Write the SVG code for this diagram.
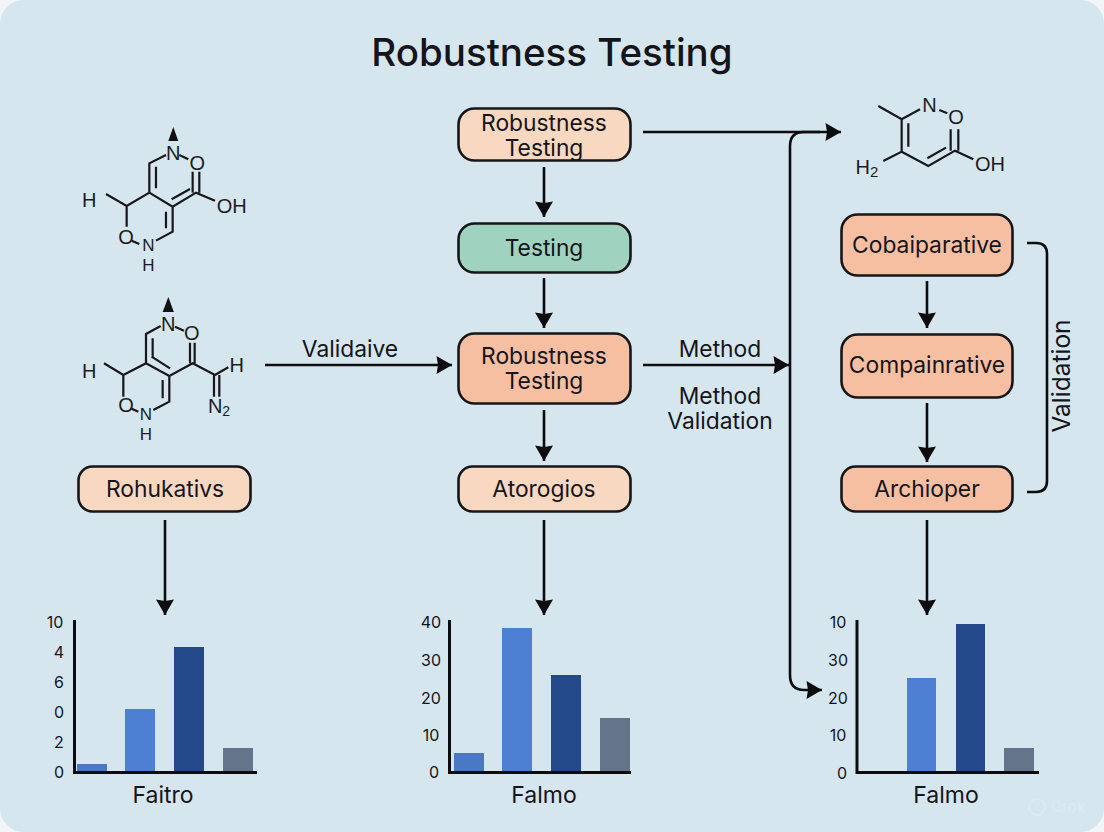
<svg xmlns="http://www.w3.org/2000/svg" width="1104" height="832" viewBox="0 0 1104 832">
<style>
text{font-family:Inter,"Liberation Sans",sans-serif;fill:#14141a;text-anchor:middle}
.n{stroke:#16161a;stroke-width:2.6}
.l{font-size:22.8px}
.e{font-size:22.8px}
.a{font-size:16px}
.x{font-size:23px}
.c{fill:none;stroke:#0c0c0e;stroke-width:2.6}
.b{fill:none;stroke:#17171b;stroke-width:6.6}
.t{font-family:"Liberation Sans",Arial,sans-serif;font-size:20px;fill:#1c1c20}
.s{font-family:"Liberation Sans",Arial,sans-serif;font-size:17px;fill:#1c1c20}
.ax{fill:none;stroke:#0c0c0e;stroke-width:3}
</style>
<defs>
<marker id="ah" markerUnits="userSpaceOnUse" markerWidth="20" markerHeight="20" refX="16" refY="9" orient="auto"><path d="M0.500 0L16 9L0.500 18L2 9Z" fill="#0c0c0e"/></marker>
</defs>
<rect width="1104" height="832" fill="#f2f6f8"/>
<rect width="1104" height="832" rx="24" fill="#d6e6ef"/>
<text x="552" y="66" style="font-size:38.500px;font-weight:500">Robustness Testing</text>

<g id="connectors">
<path class="c" marker-end="url(#ah)" d="M544 167V217"/>
<path class="c" marker-end="url(#ah)" d="M544 278V328"/>
<path class="c" marker-end="url(#ah)" d="M544 410V461"/>
<path class="c" marker-end="url(#ah)" d="M544 520V615"/>
<path class="c" marker-end="url(#ah)" d="M165 520V615"/>
<path class="c" marker-end="url(#ah)" d="M265 365H452"/>
<path class="c" marker-end="url(#ah)" d="M643 365H789"/>
<path class="c" marker-end="url(#ah)" d="M643 132H841"/>
<path class="c" marker-end="url(#ah)" d="M820 132H804Q790 132 790 146V675Q790 690 804 690H822"/>
<path class="c" marker-end="url(#ah)" d="M927 281V328"/>
<path class="c" marker-end="url(#ah)" d="M927 403V462"/>
<path class="c" marker-end="url(#ah)" d="M927 520V615"/>
<path class="c" d="M1027 243H1036Q1047 243 1047 254V481Q1047 492 1036 492H1027"/>
</g>
<text class="e" x="350" y="357">Validaive</text>
<text class="e" x="720" y="357">Method</text>
<text class="e" x="720" y="404">Method</text>
<text class="e" x="720" y="429">Validation</text>
<text class="e" style="font-size:24.500px" transform="translate(1070 376) rotate(-90)">Validation</text>

<g id="node-top"><rect class="n" x="458.500" y="108.500" width="172" height="52" rx="16" fill="#f8d8c0"/><text class="l" x="544" y="131">Robustness</text><text class="l" x="544" y="156">Testing</text></g>
<g id="node-testing"><rect class="n" x="458.500" y="223.500" width="172" height="49" rx="16" fill="#a0d3bf"/><text class="l" x="544" y="256">Testing</text></g>
<g id="node-mid"><rect class="n" x="458.500" y="333.500" width="172" height="70" rx="16" fill="#f7bfa2"/><text class="l" x="544" y="364">Robustness</text><text class="l" x="544" y="389">Testing</text></g>
<g id="node-atorogios"><rect class="n" x="458.500" y="466.500" width="172" height="45" rx="14" fill="#f8d8c0"/><text class="l" x="544" y="497">Atorogios</text></g>
<g id="node-rohukativs"><rect class="n" x="78.500" y="466.500" width="172" height="45" rx="14" fill="#f8d8c0"/><text class="l" x="165" y="497">Rohukativs</text></g>
<g id="node-cobai"><rect class="n" x="841.500" y="214.500" width="171" height="61" rx="16" fill="#f7bfa2"/><text class="l" x="927" y="253">Cobaiparative</text></g>
<g id="node-compain"><rect class="n" x="841.500" y="334.500" width="171" height="63" rx="16" fill="#f7bfa2"/><text class="l" x="927" y="373">Compainrative</text></g>
<g id="node-archioper"><rect class="n" x="841.500" y="466.500" width="171" height="45" rx="14" fill="#f7bfa2"/><text class="l" x="927" y="497">Archioper</text></g>

<g id="molecule-1">
<path class="b" transform="translate(60 110) scale(.3333)" d="M138 252L200 288L268 248V160L318 135M288 235V170M268 248L338 290L408 248L465 272M335 268L390 237M398 248V185M418 248V185M200 288V350M338 290V365L288 392M318 305V355M215 392L238 402M358 135L385 148"/>
<path d="M173.300 127L168.300 141H178.300Z" fill="#111"/>
<text class="t" x="173.300" y="160">N</text><text class="t" x="197.300" y="170">O</text><text class="t" x="89.300" y="207">H</text><text class="t" x="231.700" y="213">OH</text><text class="t" x="126" y="244">O</text><text class="s" x="148.300" y="251">N</text><text class="s" x="148.300" y="271">H</text>
</g>
<g id="molecule-2">
<path class="b" transform="translate(60 110) scale(.3333)" d="M132 760L190 795L258 760V672L302 648M278 745V685M258 760L328 798L398 760L465 795L505 772M275 740L330 775M390 760V698M404 760V698M190 795V860M328 798V875L280 900M308 810V865M212 895L235 905M345 650L372 662M462 795V860M478 795V860"/>
<path d="M168.300 297L162.700 312H173.900Z" fill="#111"/>
<text class="t" x="168.300" y="331">N</text><text class="t" x="191.700" y="340">O</text><text class="t" x="89.300" y="378">H</text><text class="t" x="236.700" y="372">H</text><text class="t" x="126" y="412">O</text><text class="s" x="146" y="420">N</text><text class="s" x="146" y="440">H</text>
<text class="t" x="219" y="413">N<tspan font-size="14" dy="3">2</tspan></text>
</g>
<g id="molecule-3">
<path class="b" transform="translate(830 80) scale(.3333)" d="M145 78L215 118L270 88M215 118V215L160 243M235 130V200M215 215L295 258L375 212L430 238M292 235L348 203M362 212V148M385 212V148M328 90L352 100"/>
<text class="t" x="929.500" y="112">N</text><text class="t" x="956" y="124">O</text><text class="t" x="990" y="171">OH</text>
<text class="t" x="867" y="174">H<tspan font-size="15" dy="3">2</tspan></text>
</g>

<g id="chart-1">
<rect x="77" y="764" width="30" height="8" fill="#4a78c4"/><rect x="125" y="709" width="30" height="63" fill="#4d7fd2"/><rect x="174" y="647" width="30" height="125" fill="#24498a"/><rect x="223" y="748" width="30" height="24" fill="#64748b"/>
<path class="ax" d="M74.500 620V772.500H257"/>
<text class="a" x="55" y="628">10</text><text class="a" x="59" y="658">4</text><text class="a" x="59" y="688">6</text><text class="a" x="59" y="718">0</text><text class="a" x="59" y="748">2</text><text class="a" x="59" y="778">0</text>
<text class="x" x="163" y="803">Faitro</text>
</g>
<g id="chart-2">
<rect x="454" y="753" width="30" height="19" fill="#4a78c4"/><rect x="502" y="628" width="30" height="144" fill="#4d7fd2"/><rect x="551" y="675" width="30" height="97" fill="#24498a"/><rect x="600" y="718" width="30" height="54" fill="#64748b"/>
<path class="ax" d="M449.500 620V772.500H631"/>
<text class="a" x="431" y="628">40</text><text class="a" x="431" y="666">30</text><text class="a" x="431" y="704">20</text><text class="a" x="431" y="741">10</text><text class="a" x="434" y="778">0</text>
<text class="x" x="544" y="803">Falmo</text>
</g>
<g id="chart-3">
<rect x="907" y="678" width="29" height="94" fill="#4d7fd2"/><rect x="956" y="624" width="29" height="148" fill="#24498a"/><rect x="1004" y="748" width="30" height="24" fill="#64748b"/>
<path class="ax" d="M857 620V772.500H1039"/>
<text class="a" x="838" y="628">10</text><text class="a" x="838" y="666">30</text><text class="a" x="838" y="704">20</text><text class="a" x="838" y="741">10</text><text class="a" x="842" y="779">0</text>
<text class="x" x="946" y="803">Falmo</text>
</g>
<g opacity=".4"><circle cx="1037" cy="807" r="8" fill="none" stroke="#e6f0f5" stroke-width="2"/><text x="1068" y="812" style="font-size:15px;fill:#e6f0f5">Grok</text></g>
</svg>
